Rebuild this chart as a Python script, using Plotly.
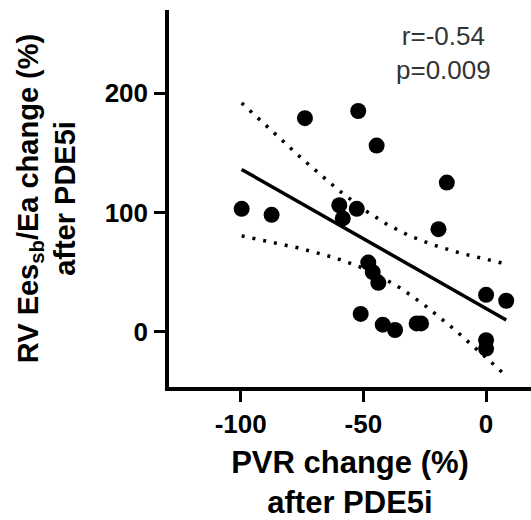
import numpy as np
import plotly.graph_objects as go

# Data
pvr_change = [-99.6, -87.4, -73.8, -52.1, -44.6, -59.8, -52.7, -58.4, -19.4, -16.0,
              -48.0, -46.2, -43.9, -51.1, -42.1, -37.1, -28.3, -26.5, 0.0, 8.2, 0.0, 0.0]
ees_ea_change = [103, 98, 179, 185, 156, 106, 103, 95, 86, 125,
                 58, 50, 41, 15, 6, 1.5, 7, 7, 31, 26, -7, -14]
x_ticks = [-100, -50, 0]
y_ticks = [0, 100, 200]
stats_text = "r=-0.54<br>p=0.009"

x = np.array(pvr_change, dtype=float)
y = np.array(ees_ea_change, dtype=float)
n = len(x)
slope, intercept = np.polyfit(x, y, 1)
xf = np.linspace(x.min(), x.max(), 100)
yf = intercept + slope * xf
resid = y - (intercept + slope * x)
s = np.sqrt(np.sum(resid ** 2) / (n - 2))
sxx = np.sum((x - x.mean()) ** 2)
t_crit = 2.086  # t(0.975, df=20)
half = t_crit * s * np.sqrt(1.0 / n + (xf - x.mean()) ** 2 / sxx)

FONT = "Liberation Sans, Arial, sans-serif"

fig = go.Figure()
fig.add_trace(go.Scatter(x=xf, y=yf + half, mode="lines",
                         line=dict(color="black", width=3.5, dash="3px,8px"),
                         hoverinfo="skip", showlegend=False))
fig.add_trace(go.Scatter(x=xf, y=yf - half, mode="lines",
                         line=dict(color="black", width=3.5, dash="3px,8px"),
                         hoverinfo="skip", showlegend=False))
fig.add_trace(go.Scatter(x=xf, y=yf, mode="lines",
                         line=dict(color="black", width=3.5),
                         showlegend=False))
fig.add_trace(go.Scatter(x=pvr_change, y=ees_ea_change, mode="markers",
                         marker=dict(color="black", size=16, line=dict(width=0)),
                         showlegend=False))

fig.add_annotation(x=-17.5, y=1.0, xref="x", yref="paper", text=stats_text,
                   showarrow=False, xanchor="center", yanchor="top", yshift=-9,
                   font=dict(family=FONT, size=26, color="#333333"))

fig.update_layout(
    width=531, height=520,
    margin=dict(l=169, r=0, t=10, b=131),
    plot_bgcolor="white", paper_bgcolor="white",
    font=dict(family=FONT, color="black"),
    xaxis=dict(range=[-129.2, 18.3], tickvals=x_ticks, ticktext=[str(v) for v in x_ticks],
               showgrid=False, zeroline=False, showline=True, linecolor="black",
               linewidth=3.5, ticks="outside", ticklen=11, tickwidth=3, tickcolor="black",
               tickfont=dict(family=FONT, size=26, color="black", weight="bold"),
               title=dict(text="<b>PVR change (%)<br>after PDE5i</b>", standoff=19,
                          font=dict(family=FONT, size=31, color="black"))),
    yaxis=dict(range=[-46.25, 269.6], tickvals=y_ticks, ticktext=[str(v) for v in y_ticks],
               showgrid=False, zeroline=False, showline=True, linecolor="black",
               linewidth=3.5, ticks="outside", ticklen=11, tickwidth=3, tickcolor="black",
               ticklabelstandoff=1,
               tickfont=dict(family=FONT, size=26, color="black", weight="bold"),
               title=dict(text="<b>RV Ees<sub>sb</sub>/Ea change (%)<br>after PDE5i</b>", standoff=21,
                          font=dict(family=FONT, size=29, color="black"))),
)
fig.write_html("out.html")
